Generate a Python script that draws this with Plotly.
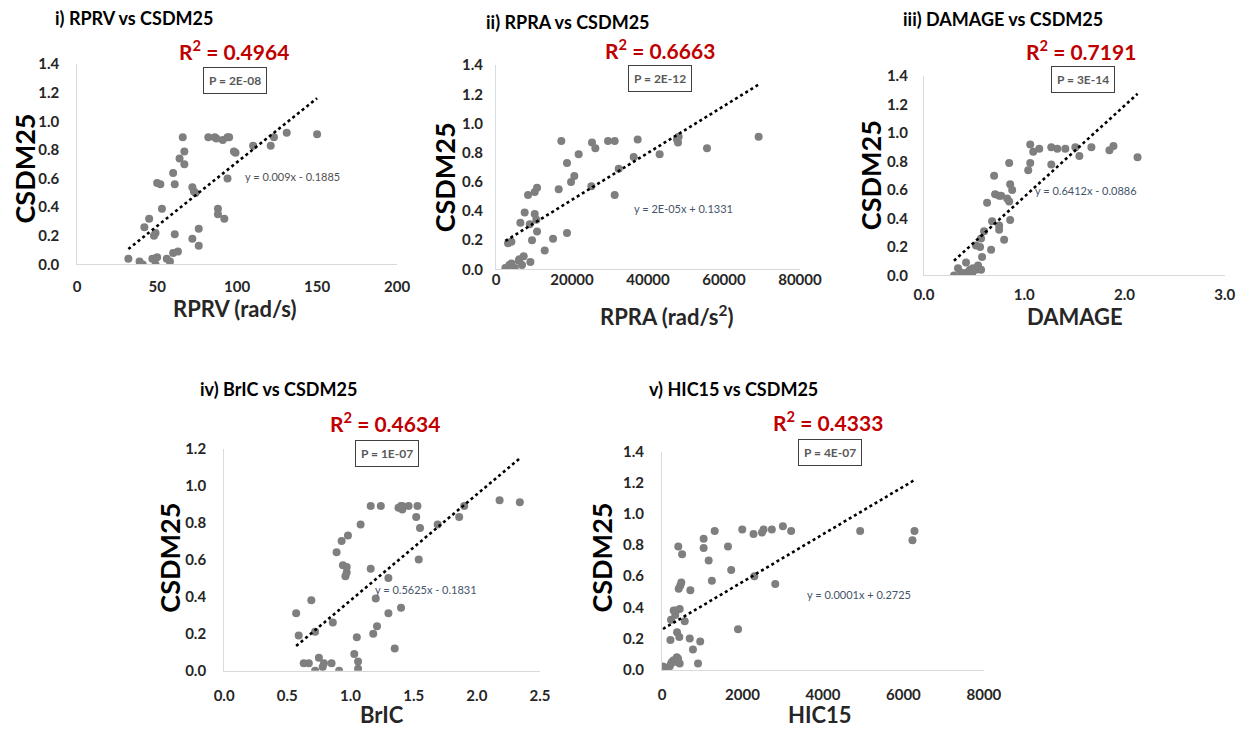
import plotly.graph_objects as go
import numpy as np

W, H = 1248, 729          # target picture size
S = 0.975                 # the photographed page is shrunk by this factor
PAD = 8                   # page body margin of the browser
FW, FH = 1264, 740        # figure size in page pixels

# ---------------- data ----------------
rprv = [32, 39, 41, 42, 45, 47, 48, 49, 49, 50, 50, 52, 53, 56, 58, 60, 60, 61, 61, 63,
        64, 66, 67, 67, 72, 72, 73, 74, 76, 76, 82, 86, 87, 88, 88, 91, 92, 94, 95, 94,
        98, 99, 110, 121, 123, 131, 150]
csdm_rprv = [0.04, 0.02, 0.00, 0.26, 0.32, 0.04, 0.20, 0.22, 0.00, 0.05, 0.57, 0.56, 0.39, 0.04, 0.02, 0.08, 0.64, 0.21, 0.56, 0.09,
             0.74, 0.89, 0.79, 0.70, 0.18, 0.54, 0.51, 0.50, 0.25, 0.13, 0.89, 0.89, 0.88, 0.39, 0.35, 0.87, 0.32, 0.89, 0.89, 0.60,
             0.79, 0.78, 0.83, 0.83, 0.89, 0.92, 0.91]

rpra = [2460, 3510, 4040, 4910, 5970, 6140, 6840, 7280, 9040, 3160, 4040, 6400, 7540, 8420, 8860, 9470, 10180, 10180, 10790, 10610,
        10790, 12810, 15000, 16490, 17190, 18680, 18680, 19740, 20610, 21750, 25090, 25260, 26140, 29470, 31230, 31230, 32280, 36230, 37280, 43070,
        47630, 47900, 48070, 55530, 69120]
csdm_rpra = [0.01, 0.03, 0.04, 0.01, 0.06, 0.07, 0.03, 0.09, 0.05, 0.18, 0.19, 0.32, 0.39, 0.51, 0.31, 0.20, 0.38, 0.53, 0.56, 0.34,
             0.26, 0.13, 0.21, 0.55, 0.88, 0.73, 0.25, 0.60, 0.64, 0.79, 0.57, 0.87, 0.83, 0.88, 0.88, 0.51, 0.69, 0.77, 0.89, 0.79,
             0.89, 0.87, 0.91, 0.83, 0.91]

damage = [0.30, 0.34, 0.37, 0.42, 0.43, 0.46, 0.48, 0.49, 0.52, 0.54, 0.57, 0.58, 0.52, 0.56, 0.57, 0.60, 0.63, 0.67, 0.68, 0.70,
          0.71, 0.75, 0.77, 0.75, 0.75, 0.80, 0.83, 0.85, 0.85, 0.86, 0.86, 0.88, 1.04, 1.06, 1.06, 1.09, 1.15, 1.27, 1.27, 1.33,
          1.41, 1.51, 1.55, 1.67, 1.85, 1.89, 2.13]
csdm_damage = [0.00, 0.05, 0.02, 0.09, 0.02, 0.04, 0.01, 0.05, 0.04, 0.07, 0.04, 0.13, 0.21, 0.20, 0.26, 0.31, 0.51, 0.18, 0.38, 0.70,
               0.57, 0.56, 0.56, 0.35, 0.32, 0.25, 0.54, 0.52, 0.79, 0.64, 0.39, 0.60, 0.74, 0.79, 0.92, 0.87, 0.89, 0.90, 0.78, 0.89,
               0.89, 0.90, 0.84, 0.90, 0.88, 0.91, 0.83]

bric = [0.57, 0.59, 0.63, 0.67, 0.69, 0.72, 0.72, 0.75, 0.78, 0.79, 0.85, 0.86, 0.89, 0.91, 0.93, 0.94, 0.96, 0.97, 0.97, 0.98,
        1.03, 1.05, 1.06, 1.06, 1.08, 1.16, 1.16, 1.18, 1.20, 1.21, 1.24, 1.30, 1.30, 1.35, 1.38, 1.40, 1.41, 1.41, 1.46, 1.40,
        1.52, 1.53, 1.54, 1.55, 1.69, 1.86, 1.90, 2.18, 2.34]
csdm_bric = [0.31, 0.19, 0.04, 0.04, 0.38, 0.00, 0.21, 0.07, 0.02, 0.04, 0.04, 0.26, 0.64, 0.00, 0.70, 0.57, 0.51, 0.56, 0.53, 0.73,
             0.09, 0.18, 0.01, 0.05, 0.79, 0.55, 0.89, 0.20, 0.39, 0.24, 0.89, 0.50, 0.31, 0.12, 0.88, 0.89, 0.87, 0.89, 0.89, 0.34,
             0.83, 0.89, 0.60, 0.77, 0.79, 0.83, 0.89, 0.92, 0.91]

hic15 = [25, 40, 80, 150, 190, 225, 250, 290, 330, 370, 400, 440, 210, 225, 290, 330, 355, 375, 430, 405,
         415, 455, 480, 440, 500, 565, 705, 690, 770, 895, 950, 1035, 1035, 1160, 1240, 1310, 1640, 1720, 1890, 1995,
         2275, 2295, 2485, 2525, 2730, 2815, 3005, 3210, 4925, 6225, 6275]
csdm_hic15 = [0.02, 0.00, 0.01, 0.00, 0.02, 0.04, 0.05, 0.06, 0.05, 0.08, 0.07, 0.04, 0.19, 0.32, 0.38, 0.35, 0.38, 0.24, 0.21, 0.79,
              0.52, 0.54, 0.56, 0.39, 0.74, 0.31, 0.51, 0.20, 0.13, 0.04, 0.18, 0.84, 0.78, 0.70, 0.57, 0.89, 0.79, 0.64, 0.26, 0.90,
              0.87, 0.60, 0.88, 0.90, 0.90, 0.55, 0.92, 0.89, 0.89, 0.83, 0.89]

titles = ["i) RPRV vs CSDM25", "ii) RPRA vs CSDM25", "iii) DAMAGE vs CSDM25",
          "iv) BrIC vs CSDM25", "v) HIC15 vs CSDM25"]
r2_labels = ["0.4964", "0.6663", "0.7191", "0.4634", "0.4333"]
p_labels = ["P = 2E-08", "P = 2E-12", "P = 3E-14", "P = 1E-07", "P = 4E-07"]
eq_labels = ["y = 0.009x - 0.1885", "y = 2E-05x + 0.1331", "y = 0.6412x - 0.0886",
             "y = 0.5625x - 0.1831", "y = 0.0001x + 0.2725"]
x_titles = ["RPRV (rad/s)", "RPRA (rad/s<sup>2</sup>)", "DAMAGE", "BrIC", "HIC15"]
y_title = "CSDM25"

# ---------------- layout geometry (pixels of the final picture) ----------------
FONT = "Lato, 'Open Sans', sans-serif"
panels = [
    dict(x=rprv, y=csdm_rprv, xr=[0, 200], yr=[0, 1.4], dx=50, fmt="d", box=(75, 395, 262, 62),
         title=(51, 16), r2=(232, 48), p=(233, 78), eq=(290, 174), yt=(22, 166), xt=(233, 306),
         xstand=9, ystand=14, eqc="#505050"),
    dict(x=rpra, y=csdm_rpra, xr=[0, 80000], yr=[0, 1.4], dx=20000, fmt="d", box=(494, 798, 267, 63),
         title=(482, 20), r2=(658, 47), p=(658, 76), eq=(682, 206), yt=(442, 175), xt=(665, 313),
         xstand=-3, ystand=9, eqc="#44546A"),
    dict(x=damage, y=csdm_damage, xr=[0, 3], yr=[0, 1.4], dx=1.0, fmt=".1f", box=(922, 1223, 273, 74),
         title=(899, 17), r2=(1079, 48), p=(1081, 77), eq=(1084, 188), yt=(868, 173), xt=(1073, 314),
         xstand=6, ystand=12, eqc="#44546A"),
    dict(x=bric, y=csdm_bric, xr=[0, 2.5], yr=[0, 1.2], dx=0.5, fmt=".1f", box=(222, 538, 668, 446),
         title=(196, 387), r2=(383, 420), p=(385, 451), eq=(424, 587), yt=(167, 555), xt=(380, 712),
         xstand=11, ystand=14, eqc="#44546A"),
    dict(x=hic15, y=csdm_hic15, xr=[0, 8000], yr=[0, 1.4], dx=2000, fmt="d", box=(660, 982, 667, 449),
         title=(645, 387), r2=(826, 419), p=(828, 450), eq=(857, 592), yt=(600, 555), xt=(818, 712),
         xstand=11, ystand=14, eqc="#44546A"),
]


def px(x):
    return (x / S - PAD) / FW


def py(y):
    return 1 - (y / S - PAD) / FH


fig = go.Figure()
annotations = []
layout = {}

for i, pnl in enumerate(panels):
    n = "" if i == 0 else str(i + 1)
    xa, ya = "x" + n, "y" + n
    x0, x1, yb, yt = pnl["box"]

    xs = np.array(pnl["x"], dtype=float)
    ys = np.array(pnl["y"], dtype=float)
    fig.add_trace(go.Scatter(x=xs, y=ys, mode="markers", xaxis=xa, yaxis=ya,
                             marker=dict(color="#7F7F7F", size=8), showlegend=False))
    k, b = np.polyfit(xs, ys, 1)
    xl = np.array([xs.min(), xs.max()])
    fig.add_trace(go.Scatter(x=xl, y=k * xl + b, mode="lines", xaxis=xa, yaxis=ya,
                             line=dict(color="black", width=2.6, dash="dot"), showlegend=False))

    layout["xaxis" + n] = dict(domain=[px(x0), px(x1)], range=pnl["xr"], anchor=ya,
                               dtick=pnl["dx"], tick0=0, tickformat=pnl["fmt"],
                               showgrid=False, zeroline=False, showline=True, linecolor="#D9D9D9",
                               linewidth=1, ticks="", ticklen=0, ticklabelstandoff=pnl["xstand"],
                               tickfont=dict(family=FONT, size=15, color="#262626", weight="bold"))
    layout["yaxis" + n] = dict(domain=[py(yb), py(yt)], range=pnl["yr"], anchor=xa,
                               dtick=0.2, tick0=0, tickformat=".1f",
                               showgrid=False, zeroline=False, showline=True, linecolor="#D6DCE5",
                               linewidth=1, ticks="", ticklen=0, ticklabelstandoff=pnl["ystand"],
                               tickfont=dict(family=FONT, size=15, color="#262626", weight="bold"))

    annotations.append(dict(text=titles[i], x=px(pnl["title"][0]), y=py(pnl["title"][1]),
                            xref="paper", yref="paper", xanchor="left", yanchor="middle", showarrow=False,
                            font=dict(family=FONT, size=18, color="#000000", weight="bold")))
    annotations.append(dict(text="R<sup>2</sup> = " + r2_labels[i], x=px(pnl["r2"][0]), y=py(pnl["r2"][1]),
                            xref="paper", yref="paper", xanchor="center", yanchor="middle", showarrow=False,
                            font=dict(family=FONT, size=21, color="#C00000", weight="bold")))
    annotations.append(dict(text=p_labels[i], x=px(pnl["p"][0]), y=py(pnl["p"][1]),
                            xref="paper", yref="paper", xanchor="center", yanchor="middle", showarrow=False,
                            bordercolor="#404040", borderwidth=1, borderpad=5, bgcolor="white",
                            font=dict(family=FONT, size=12, color="#595959", weight="bold")))
    annotations.append(dict(text=eq_labels[i], x=px(pnl["eq"][0]), y=py(pnl["eq"][1]),
                            xref="paper", yref="paper", xanchor="center", yanchor="middle", showarrow=False,
                            font=dict(family=FONT, size=11, color=pnl["eqc"])))
    annotations.append(dict(text=y_title, x=px(pnl["yt"][0]), y=py(pnl["yt"][1]), textangle=-90,
                            xref="paper", yref="paper", xanchor="center", yanchor="middle", showarrow=False,
                            font=dict(family=FONT, size=27, color="#000000", weight="bold")))
    annotations.append(dict(text=x_titles[i], x=px(pnl["xt"][0]), y=py(pnl["xt"][1]),
                            xref="paper", yref="paper", xanchor="center", yanchor="middle", showarrow=False,
                            font=dict(family=FONT, size=22, color="#262626", weight="bold")))

fig.update_layout(width=FW, height=FH, margin=dict(l=0, r=0, t=0, b=0),
                  paper_bgcolor="white", plot_bgcolor="white",
                  annotations=annotations, **layout)

fig.write_html("out.html")
